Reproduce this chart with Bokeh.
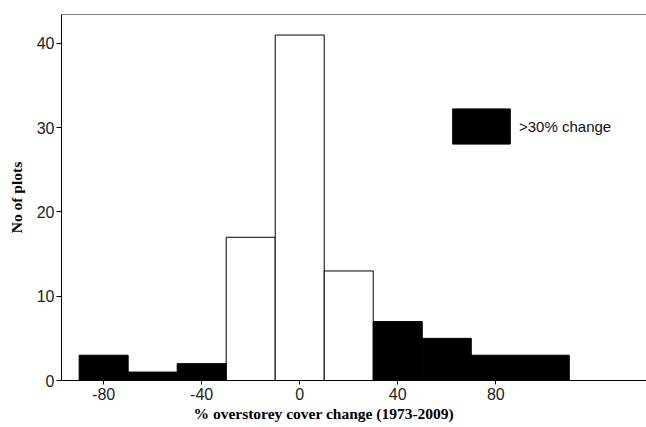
from bokeh.plotting import figure
from bokeh.models import Range1d, Span, Legend, LegendItem, FixedTicker, ColumnDataSource, Title
from bokeh.embed import file_html
from bokeh.resources import INLINE

# Data: histogram of overstorey cover change, bins of width 20
bin_left = [-90, -70, -50, -30, -10, 10, 30, 50, 70, 90]
bin_right = [-70, -50, -30, -10, 10, 30, 50, 70, 90, 110]
counts = [3, 1, 2, 17, 41, 13, 7, 5, 3, 3]
x_ticks = [-80, -40, 0, 40, 80]
y_ticks = [0, 10, 20, 30, 40]

big_l, big_r, big_c = [], [], []
small_l, small_r, small_c = [], [], []
for l, r, c in zip(bin_left, bin_right, counts):
    if l >= 30 or r <= -30:
        big_l.append(l); big_r.append(r); big_c.append(c)
    else:
        small_l.append(l); small_r.append(r); small_c.append(c)

Y_TOP = 43.44
p = figure(width=646, height=427, output_backend="svg", toolbar_location=None,
           x_range=Range1d(-97.2, 141.5), y_range=Range1d(0, Y_TOP),
           min_border_left=61, min_border_right=0, min_border_top=14, min_border_bottom=47)
p.outline_line_color = None
p.xgrid.grid_line_color = None
p.ygrid.grid_line_color = None

src_small = ColumnDataSource(dict(left=small_l, right=small_r, top=small_c, bottom=[0]*len(small_c)))
src_big = ColumnDataSource(dict(left=big_l, right=big_r, top=big_c, bottom=[0]*len(big_c)))

p.quad(left="left", right="right", top="top", bottom="bottom", source=src_small,
       fill_color="white", line_color="black", line_width=1)
r_big = p.quad(left="left", right="right", top="top", bottom="bottom", source=src_big,
               fill_color="black", line_color="black", line_width=1)

p.add_layout(Span(location=Y_TOP, dimension="width", line_color="black", line_width=1))

for ax in (p.xaxis[0], p.yaxis[0]):
    ax.axis_line_color = "black"
    ax.major_tick_line_color = "black"
    ax.minor_tick_line_color = None
    ax.major_tick_in = 0
    ax.major_label_text_font = "Liberation Sans"
    ax.major_label_text_font_size = "16px"
    ax.major_label_text_color = "#222222"
    ax.axis_label_text_font = "Liberation Serif"
    ax.axis_label_text_font_style = "bold"
    ax.axis_label_text_font_size = "15.5px"
    ax.axis_label_text_color = "black"

p.xaxis.ticker = FixedTicker(ticks=x_ticks)
p.yaxis.ticker = FixedTicker(ticks=y_ticks)
p.xaxis.major_label_overrides = {t: str(t) for t in x_ticks}
p.xaxis.major_tick_out = 4
p.yaxis.major_tick_out = 5
p.xaxis.major_label_standoff = 3
p.yaxis.major_label_standoff = 2
p.yaxis.axis_label = "No of plots"
p.yaxis.axis_label_standoff = 9

# x-axis title, placed as in the original (uncropped) plot area
p.add_layout(Title(text="% overstorey cover change (1973-2009)", align="left", offset=132,
                   standoff=0, text_font="Liberation Serif", text_font_style="bold",
                   text_font_size="15.5px", text_color="black"), "below")

legend = Legend(items=[LegendItem(label=">30% change", renderers=[r_big])],
                location=(384, 232), padding=0, margin=0, spacing=0,
                glyph_width=72, glyph_height=44, label_standoff=2,
                label_text_font="Liberation Sans", label_text_font_size="15px",
                label_text_color="#111111",
                border_line_color=None, background_fill_alpha=0)
p.add_layout(legend)

open("out.html", "w").write(file_html(p, INLINE))
